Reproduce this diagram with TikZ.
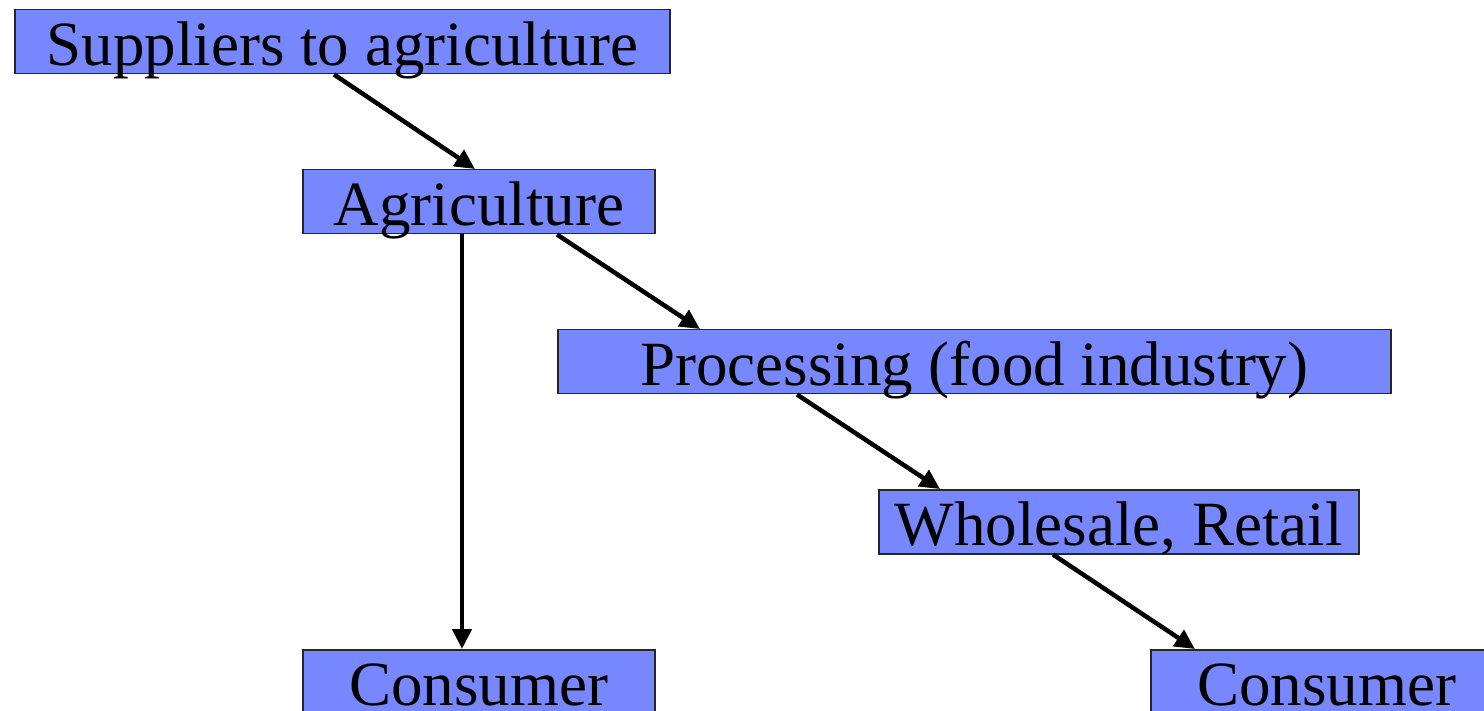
\documentclass[tikz,border=0pt]{standalone}
\usepackage{fontspec}
\setmainfont{Liberation Serif}
\usetikzlibrary{arrows.meta}
\definecolor{boxblue}{HTML}{7788FF}
\begin{document}
\begin{tikzpicture}[x=1pt,y=-1pt,
  stage/.style={draw=black!85,line width=1.5pt,fill=boxblue,inner sep=0pt,
    anchor=north west,minimum height=64pt,text height=56pt,text depth=8pt,
    font=\fontsize{63}{70}\selectfont},
  flow/.style={line width=4.5pt,-{Triangle[length=20pt,width=19pt]}}]
\useasboundingbox (0,0) rectangle (1484,711);
\node[stage,minimum width=655pt] (sup) at (14,9) {Suppliers to agriculture};
\node[stage,minimum width=352pt] (agr) at (302,169) {Agriculture};
\node[stage,minimum width=833pt] (proc) at (557,329) {Processing (food industry)};
\node[stage,minimum width=480pt] (whole) at (878,489) {Wholesale, Retail\hspace{14pt}};
\node[stage,minimum width=352pt] (consA) at (302,649) {Consumer};
\node[stage,minimum width=352pt] (consB) at (1150,649) {Consumer};
\draw[flow] ([xshift=320pt]sup.south west) -- ([xshift=173pt]agr.north west);
\draw[flow] ([xshift=160pt]agr.south west) -- ([xshift=160pt]consA.north west);
\draw[flow] ([xshift=255pt]agr.south west) -- ([xshift=143pt]proc.north west);
\draw[flow] ([xshift=240pt]proc.south west) -- ([xshift=62pt]whole.north west);
\draw[flow] ([xshift=175pt]whole.south west) -- ([xshift=45pt]consB.north west);
\end{tikzpicture}
\end{document}
